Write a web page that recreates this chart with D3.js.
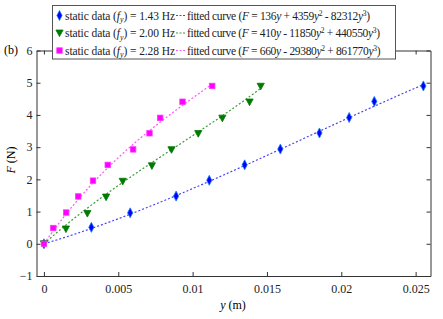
<!DOCTYPE html>
<html>
<head>
<meta charset="utf-8">
<script src="https://cdn.jsdelivr.net/npm/d3@7"></script>
<style>
  body { margin: 0; background: #fff; }
</style>
</head>
<body>
<div id="chart"></div>
<script>
// measured data (y in m, F in N)
const yBlue = [0, 0.00319, 0.0058, 0.00889, 0.01112, 0.0135, 0.0159, 0.01853, 0.02053, 0.02222, 0.02552];
const fBlue = [0, 0.51, 0.96, 1.48, 1.97, 2.45, 2.94, 3.44, 3.92, 4.42, 4.90];
const yGreen = [0, 0.00148, 0.00292, 0.00418, 0.0053, 0.00726, 0.00858, 0.01038, 0.012, 0.01383, 0.01458];
const fGreen = [0, 0.46, 0.94, 1.45, 1.94, 2.42, 2.92, 3.42, 3.90, 4.40, 4.89];
const yMag = [0, 0.00063, 0.0015, 0.00231, 0.0033, 0.00429, 0.006, 0.0071, 0.00782, 0.00932, 0.01132];
const fMag = [0, 0.49, 0.97, 1.47, 1.96, 2.45, 2.93, 3.43, 3.91, 4.41, 4.90];

// fitted curve coefficients [a1, a2, a3] : F = a1*y + a2*y^2 + a3*y^3
const coefBlue = [136, 4359, -82312];
const coefGreen = [410, -11850, 440550];
const coefMag = [660, -29380, 861770];

const freqs = ["1.43", "2.00", "2.28"];
const xTicks = [0, 0.005, 0.01, 0.015, 0.02, 0.025];
const xTickLabels = ["0", "0.005", "0.01", "0.015", "0.02", "0.025"];
const yTicks = [-1, 0, 1, 2, 3, 4, 5, 6];

const series = [
  { ys: yBlue, fs: fBlue, coef: coefBlue, freq: freqs[0], shape: "diamond", fill: "#0000ff", edge: "#1a7cff", line: "#4444ff" },
  { ys: yGreen, fs: fGreen, coef: coefGreen, freq: freqs[1], shape: "triangle", fill: "#007a00", edge: "#007a00", line: "#3a9a3a" },
  { ys: yMag, fs: fMag, coef: coefMag, freq: freqs[2], shape: "square", fill: "#ff00ff", edge: "#ff33ff", line: "#ff55ff" },
];

const FONT = "'Liberation Serif'";
const FS = "12px";

const W = 443, H = 319;
const margin = { top: 50.5, right: 12.5, bottom: 43, left: 36.5 };
const iw = W - margin.left - margin.right;
const ih = H - margin.top - margin.bottom;

const svg = d3.select("#chart").append("svg")
  .attr("width", W).attr("height", H)
  .attr("font-family", FONT);

const x = d3.scaleLinear().domain([-0.0005, 0.026]).range([margin.left, margin.left + iw]);
const y = d3.scaleLinear().domain([-1, 6]).range([margin.top + ih, margin.top]);

// axes (box with inward ticks)
const axisColor = "#333";
const g = svg.append("g");
g.append("g").attr("transform", `translate(0,${margin.top + ih})`)
  .call(d3.axisBottom(x).tickValues(xTicks).tickSizeInner(-4).tickSizeOuter(0).tickPadding(8)
    .tickFormat((d, i) => xTickLabels[i]));
g.append("g").attr("transform", `translate(0,${margin.top})`)
  .call(d3.axisTop(x).tickValues(xTicks).tickSizeInner(-4).tickSizeOuter(0).tickFormat(""));
g.append("g").attr("transform", `translate(${margin.left},0)`)
  .call(d3.axisLeft(y).tickValues(yTicks).tickSizeInner(-4).tickSizeOuter(0).tickPadding(4)
    .tickFormat(d3.format("d")));
g.append("g").attr("transform", `translate(${margin.left + iw},0)`)
  .call(d3.axisRight(y).tickValues(yTicks).tickSizeInner(-4).tickSizeOuter(0).tickFormat(""));
g.selectAll("g").attr("font-family", null).attr("font-size", null);
g.selectAll(".domain, .tick line").attr("stroke", axisColor).attr("stroke-width", 1);
g.selectAll(".tick text").attr("fill", "#222");

// fitted curves
const poly = (c, v) => c[0] * v + c[1] * v * v + c[2] * v * v * v;
const line = d3.line().x(d => x(d[0])).y(d => y(d[1]));
series.forEach(s => {
  const yMax = d3.max(s.ys);
  const pts = d3.range(0, 81).map(i => yMax * i / 80).map(v => [v, poly(s.coef, v)]);
  svg.append("path").datum(pts)
    .attr("d", line)
    .attr("fill", "none")
    .attr("stroke", s.line)
    .attr("stroke-width", 1.2)
    .attr("stroke-dasharray", "2,2");
});

// markers
function marker(sel, shape, cx, cy) {
  if (shape === "diamond") {
    sel.append("path").attr("d", `M${cx},${cy - 5}L${cx + 2.6},${cy}L${cx},${cy + 5}L${cx - 2.6},${cy}Z`);
  } else if (shape === "triangle") {
    sel.append("path").attr("d", `M${cx - 3.6},${cy - 3}L${cx + 3.6},${cy - 3}L${cx},${cy + 3.6}Z`);
  } else {
    sel.append("rect").attr("x", cx - 2.7).attr("y", cy - 2.7).attr("width", 5.4).attr("height", 5.4);
  }
}
series.forEach(s => {
  const mg = svg.append("g").attr("fill", s.fill).attr("stroke", s.edge).attr("stroke-width", 0.8);
  s.ys.forEach((v, i) => marker(mg, s.shape, x(v), y(s.fs[i])));
});

// legend
const leg = svg.append("g");
leg.append("rect").attr("x", 52.5).attr("y", 5.5).attr("width", 343).attr("height", 53.5)
  .attr("fill", "#fff").attr("stroke", "#555").attr("stroke-width", 1);

function richText(parent, xPos, yPos, parts, len) {
  const t = parent.append("text").attr("x", xPos).attr("y", yPos)
    .style("font-family", FONT).style("font-size", "11.5px").attr("fill", "#222");
  parts.forEach(p => {
    const ts = t.append("tspan").text(p.t);
    if (p.i) ts.style("font-style", "italic");
    if (p.sub) ts.attr("dy", 2.5).style("font-size", "8px");
    if (p.sup) ts.attr("dy", -4).style("font-size", "7.5px");
    if (p.back) ts.attr("dy", p.back);
  });
  if (len) t.attr("textLength", len).attr("lengthAdjust", "spacing");
  return t;
}
const fmtCoef = (c, first) => {
  if (first) return String(c);
  return c < 0 ? ` - ${-c}` : ` + ${c}`;
};
const fitLen = [183, 193, 193.5];
series.forEach((s, i) => {
  const cy = 15.5 + i * 17.5;
  const mg = leg.append("g").attr("fill", s.fill).attr("stroke", s.edge).attr("stroke-width", 0.8);
  marker(mg, s.shape, 59.5, cy);
  richText(leg, 65, cy + 4, [
    { t: "static data (" }, { t: "f", i: true }, { t: "y", i: true, sub: true },
    { t: `) = ${s.freq} Hz`, back: -2.5 }
  ], 110);
  leg.append("line").attr("x1", 176).attr("x2", 186).attr("y1", cy).attr("y2", cy)
    .attr("stroke", s.line).attr("stroke-width", 1.2).attr("stroke-dasharray", "2,1.5");
  richText(leg, 187, cy + 4, [
    { t: "fitted curve (" }, { t: "F", i: true }, { t: ` = ${fmtCoef(s.coef[0], true)}` }, { t: "y", i: true },
    { t: fmtCoef(s.coef[1]) }, { t: "y", i: true }, { t: "2", sup: true },
    { t: fmtCoef(s.coef[2]), back: 4 }, { t: "y", i: true }, { t: "3", sup: true },
    { t: ")", back: 4 }
  ], fitLen[i]);
});

// labels
svg.append("text").attr("x", 4).attr("y", 54).text("(b)");
const yl = svg.append("text").attr("transform", "translate(15,160) rotate(-90)")
  .attr("text-anchor", "middle");
yl.append("tspan").style("font-style", "italic").text("F");
yl.append("tspan").text(" (N)");
const xl = svg.append("text").attr("x", 233).attr("y", 309)
  .attr("text-anchor", "middle");
xl.append("tspan").style("font-style", "italic").text("y");
xl.append("tspan").text(" (m)");

// serif everywhere
svg.selectAll("text").style("font-family", FONT);
svg.selectAll(".tick text, svg > text").style("font-size", FS);
</script>
</body>
</html>
